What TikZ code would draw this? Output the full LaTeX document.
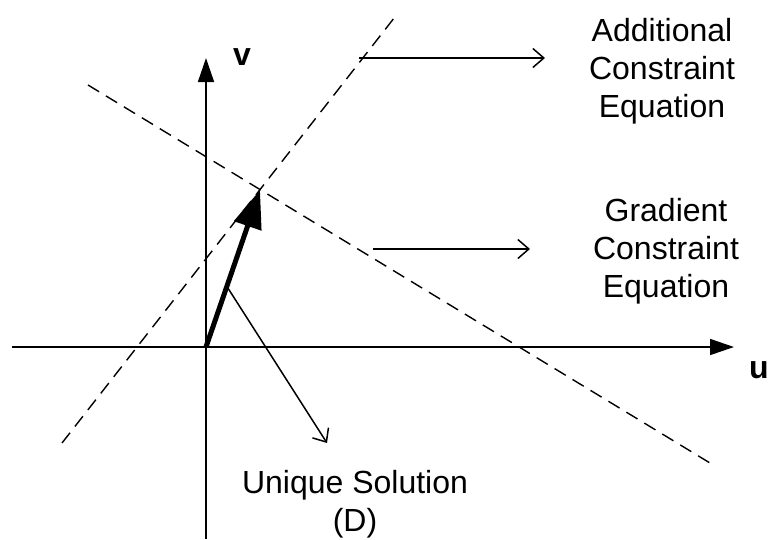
\documentclass[tikz,border=0pt]{standalone}
\usepackage{fontspec}
\setmainfont{Liberation Sans}
\usetikzlibrary{arrows.meta, positioning, calc}

\begin{document}
\begin{tikzpicture}[x=1pt, y=-1pt, >=Stealth,
  axis/.style={line width=1.6pt, -{Triangle[length=24pt, width=16pt]}},
  constraint/.style={line width=1.4pt, dash pattern=on 13pt off 8pt},
  pointer/.style={line width=1.5pt, -{Straight Barb[length=11pt, width=19pt]}},
  eqtext/.style={font=\fontsize{32}{38}\selectfont, align=center},
  axislabel/.style={font=\fontsize{32}{38}\selectfont\bfseries}]
  \useasboundingbox (0,0) rectangle (770,539);

  % axes
  \coordinate (O) at (206,347);
  \coordinate (ubeg) at (12,347);
  \coordinate (uend) at (734,347);
  \coordinate (vbeg) at (206,539);
  \coordinate (vend) at (206,58);
  \draw[axis] (ubeg) -- (uend);
  \draw[axis] (vbeg) -- (vend);
  \node[axislabel] (ulab) at (759,370) {u};
  \node[axislabel] (vlab) at (242,57) {v};

  % constraint lines
  \coordinate (adda) at (62,443);
  \coordinate (addb) at (398,13);
  \coordinate (grada) at (88,85);
  \coordinate (gradb) at (710,463);
  \draw[constraint] (adda) -- (addb);
  \draw[constraint] (grada) -- (gradb);

  % solution vector
  \coordinate (D) at (260,190);
  \draw[line width=5pt, -{Triangle[length=38pt, width=28pt]}] (O) -- (D);

  % labels
  \node[eqtext] (addtext) at (662,71) {Additional\\Constraint\\Equation};
  \node[eqtext] (gradtext) at (666,251) {Gradient\\Constraint\\Equation};
  \node[eqtext] (soltext) at (355,504) {Unique Solution\\(D)};

  \coordinate (addfrom) at (359,58);
  \coordinate (addto) at (545,58);
  \coordinate (gradfrom) at (373,249);
  \coordinate (gradto) at (530,249);
  \coordinate (solfrom) at ($(O)!0.386!(D)$);
  \coordinate (solto) at (327,443);
  \draw[pointer] (addfrom) -- (addto);
  \draw[pointer] (gradfrom) -- (gradto);
  \draw[pointer] (solfrom) -- (solto);
\end{tikzpicture}
\end{document}
